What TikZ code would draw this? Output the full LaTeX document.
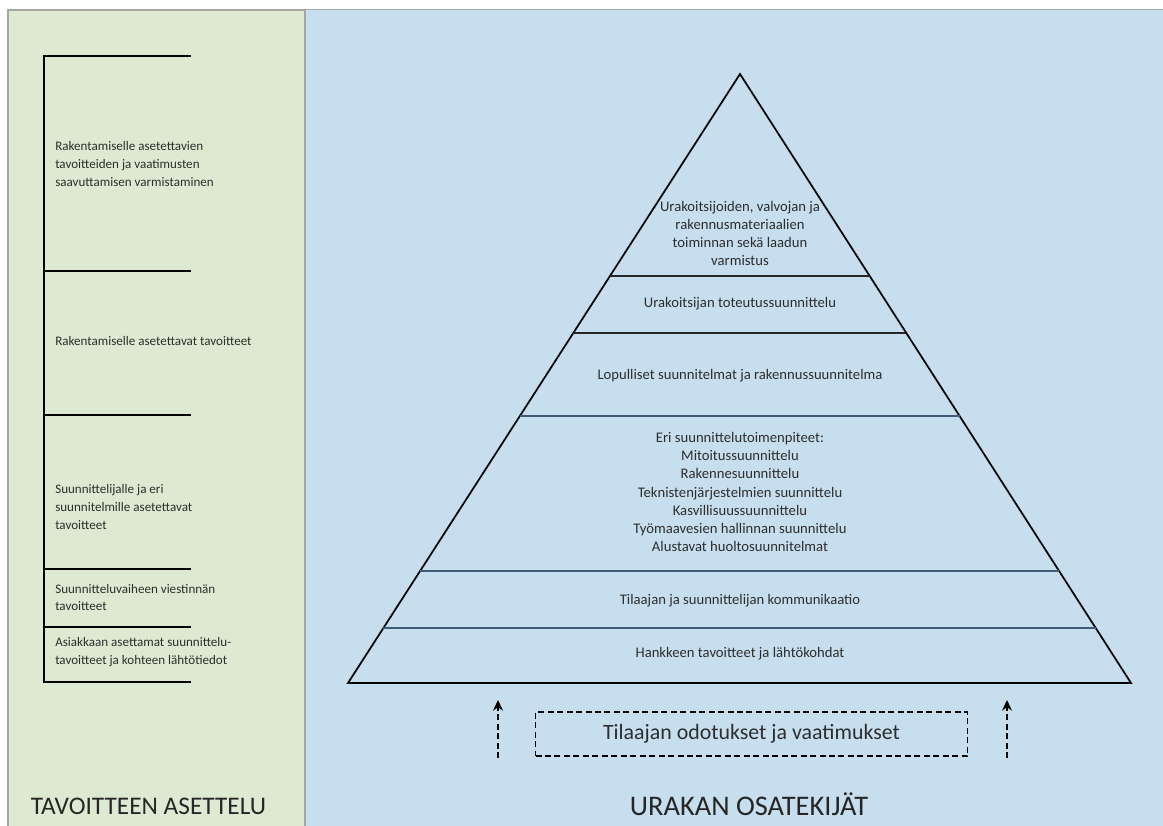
\documentclass[tikz,border=0pt]{standalone}
\usepackage{fontspec}
\setmainfont{Carlito}
\usetikzlibrary{calc,arrows.meta}

\definecolor{panelgreen}{HTML}{DDE9D1}
\definecolor{panelblue}{HTML}{C7DEEE}
\definecolor{framegray}{HTML}{A6A6A6}
\definecolor{textgray}{HTML}{2E2E2E}
\definecolor{layerline}{HTML}{3F5B76}

\begin{document}
\begin{tikzpicture}[x=0.75pt, y=-0.75pt, >={Stealth[length=8pt,width=7.5pt]},
    goal/.style={anchor=west, align=left, text=textgray, inner sep=0pt,
      font=\fontsize{9.8}{13.4}\selectfont},
    layer/.style={align=center, text=textgray, inner sep=0pt,
      font=\fontsize{11}{13.7}\selectfont},
    longdash/.style={dash pattern=on 4.5pt off 2.6pt},
    paneltitle/.style={text=black!85, inner sep=0pt}]
    \useasboundingbox (0,0) rectangle (1163,825);
    \fill[white] (0,0) rectangle (1163,825);

    % Panels
    \draw[framegray, fill=panelgreen, line width=1.5pt] (7.5,9.5) rectangle (305,840);
    \fill[panelblue] (306,10) rectangle (1175,840);
    \draw[framegray, line width=1.2pt] (306,9.5) -- (1175,9.5);

    % Goal bracket
    \draw[line width=1pt] (191,56) -- (44,56) -- (44,682) -- (191,682);
    \foreach \y in {271,415,569,627}
        \draw[line width=1pt] (44,\y) -- (191,\y);

    % Goal texts
    \node[goal] (goal5) at (55,164) {Rakentamiselle asetettavien\\tavoitteiden ja vaatimusten\\saavuttamisen varmistaminen};
    \node[goal] (goal4) at (55,341) {Rakentamiselle asetettavat tavoitteet};
    \node[goal] (goal3) at (55,507) {Suunnittelijalle ja eri\\suunnitelmille asetettavat\\tavoitteet};
    \node[goal] (goal2) at (55,597.5) {Suunnitteluvaiheen viestinnän\\tavoitteet};
    \node[goal] (goal1) at (55,652) {Asiakkaan asettamat suunnittelu-\\tavoitteet ja kohteen lähtötiedot};

    % Pyramid
    \coordinate (apex) at (740,74);
    \coordinate (baseL) at (348,683);
    \coordinate (baseR) at (1131,683);
    \draw[line width=1.3pt] (apex) -- (baseL) -- (baseR) -- cycle;
    \foreach \t in {0.3317,0.4253}
        \draw[black!85, line width=0.8pt] ($(apex)!\t!(baseL)$) -- ($(apex)!\t!(baseR)$);
    \foreach \t in {0.5616,0.8161,0.9097}
        \draw[layerline, line width=0.8pt] ($(apex)!\t!(baseL)$) -- ($(apex)!\t!(baseR)$);

    % Pyramid layers
    \node[layer] (layer6) at (740,233.5) {Urakoitsijoiden, valvojan ja\\rakennusmateriaalien\\toiminnan sekä laadun\\varmistus};
    \node[layer] (layer5) at (740,304) {Urakoitsijan toteutussuunnittelu};
    \node[layer] (layer4) at (740,376) {Lopulliset suunnitelmat ja rakennussuunnitelma};
    \node[layer] (layer3) at (740,492) {Eri suunnittelutoimenpiteet:\\Mitoitussuunnittelu\\Rakennesuunnittelu\\Teknistenjärjestelmien suunnittelu\\Kasvillisuussuunnittelu\\Työmaavesien hallinnan suunnittelu\\Alustavat huoltosuunnitelmat};
    \node[layer] (layer2) at (740,601) {Tilaajan ja suunnittelijan kommunikaatio};
    \node[layer] (layer1) at (740,654) {Hankkeen tavoitteet ja lähtökohdat};

    % Client expectations
    \node[draw, longdash, line width=0.9pt, text=textgray, minimum width=324pt, minimum height=33pt,
        font=\fontsize{16.4}{19}\selectfont] (demands) at (751.5,734) {Tilaajan odotukset ja vaatimukset};
    \coordinate (pushL0) at (498,758);
    \coordinate (pushL1) at (498,700);
    \coordinate (pushR0) at (1007,758);
    \coordinate (pushR1) at (1007,700);
    \draw[->, longdash, line width=1.2pt] (pushL0) -- (pushL1);
    \draw[->, longdash, line width=1.2pt] (pushR0) -- (pushR1);

    % Panel titles
    \node[paneltitle, font=\fontsize{19}{22}\selectfont] (goaltitle) at (148.5,806) {TAVOITTEEN ASETTELU};
    \node[paneltitle, font=\fontsize{21.3}{24}\selectfont] (parttitle) at (749,804) {URAKAN OSATEKIJÄT};
\end{tikzpicture}
\end{document}
